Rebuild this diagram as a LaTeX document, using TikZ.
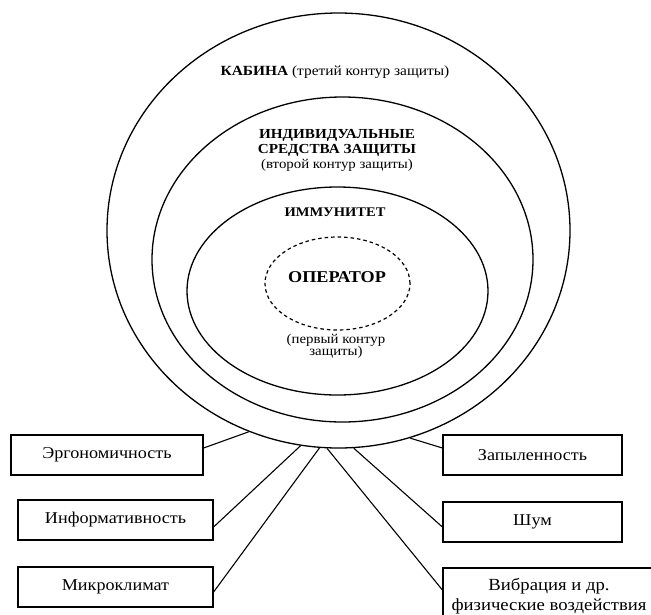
\documentclass[tikz,border=0pt]{standalone}
\usepackage{fontspec}
\setmainfont[FakeStretch=1.1]{Liberation Serif}
\usetikzlibrary{shapes.geometric,calc}
\tikzset{
  ring/.style={draw, ellipse, line width=1.3pt, inner sep=0pt},
  opring/.style={draw, ellipse, line width=1.2pt, dash pattern=on 3.5pt off 3pt, inner sep=0pt},
  factor/.style={draw, line width=1.2pt, inner sep=0pt, minimum height=40pt, font=\fontsize{16.5}{18}\selectfont},
  link/.style={line width=1.1pt},
  lbl/.style={align=center, inner sep=0pt}
}
\begin{document}
\begin{tikzpicture}[x=1pt,y=-1pt]
\useasboundingbox (0,0) rectangle (651,614);
% rings
\node[ring, minimum width=463pt, minimum height=435pt] (cabin) at (338.5,230.5) {};
\node[ring, minimum width=381pt, minimum height=325pt] (ppe) at (342.5,259.5) {};
\node[ring, minimum width=301pt, minimum height=208pt] (immun) at (337.5,291) {};
\node[opring, minimum width=145pt, minimum height=93pt] (oper) at (337.5,283.5) {};
% labels
\node[lbl] (tcab) at (335,72) {\fontsize{14}{16}\selectfont\textbf{КАБИНА} \fontsize{14}{16}\selectfont(третий контур защиты)};
\node[lbl, font=\fontsize{13.8}{15}\selectfont] (tppe) at (337,150) {\textbf{ИНДИВИДУАЛЬНЫЕ}\\\textbf{СРЕДСТВА ЗАЩИТЫ}\\\fontsize{13.5}{15}\selectfont(второй контур защиты)};
\node[lbl, font=\fontsize{13.2}{15}\selectfont\bfseries] (timm) at (335,212) {ИММУНИТЕТ};
\node[lbl, font=\fontsize{16.5}{18}\selectfont\bfseries] (top) at (337,277) {ОПЕРАТОР};
\node[lbl, font=\fontsize{13.5}{12.5}\selectfont] (tfirst) at (336,346) {(первый контур\\защиты)};
% factor boxes
\node[factor, minimum width=192pt] (ergo) at (107,455) {Эргономичность};
\node[factor, minimum width=195pt] (info) at (115.5,520) {Информативность};
\node[factor, minimum width=195pt] (micro) at (115.5,587) {Микроклимат};
\node[factor, minimum width=179pt] (dust) at (532.5,455) {Запыленность};
\node[factor, minimum width=179pt] (noise) at (532.5,522) {Шум};
\node[factor, minimum width=212pt, minimum height=57pt, align=center, font=\fontsize{17}{20}\selectfont] (vibr) at (549,596.5) {Вибрация и др.\\физические воздействия};
% connectors
\draw[link] ([yshift=7pt]ergo.east) -- (cabin.246);
\draw[link] ([yshift=-7pt]info.east) -- (cabin.260.5);
\draw[link] ([yshift=-5pt]micro.east) -- (cabin.265.1);
\draw[link] ([yshift=7pt]dust.west) -- (cabin.289.9);
\draw[link] ([yshift=-5pt]noise.west) -- (cabin.274.9);
\draw[link] ([yshift=6.5pt]vibr.west) -- (cabin.267.8);
\end{tikzpicture}
\end{document}
